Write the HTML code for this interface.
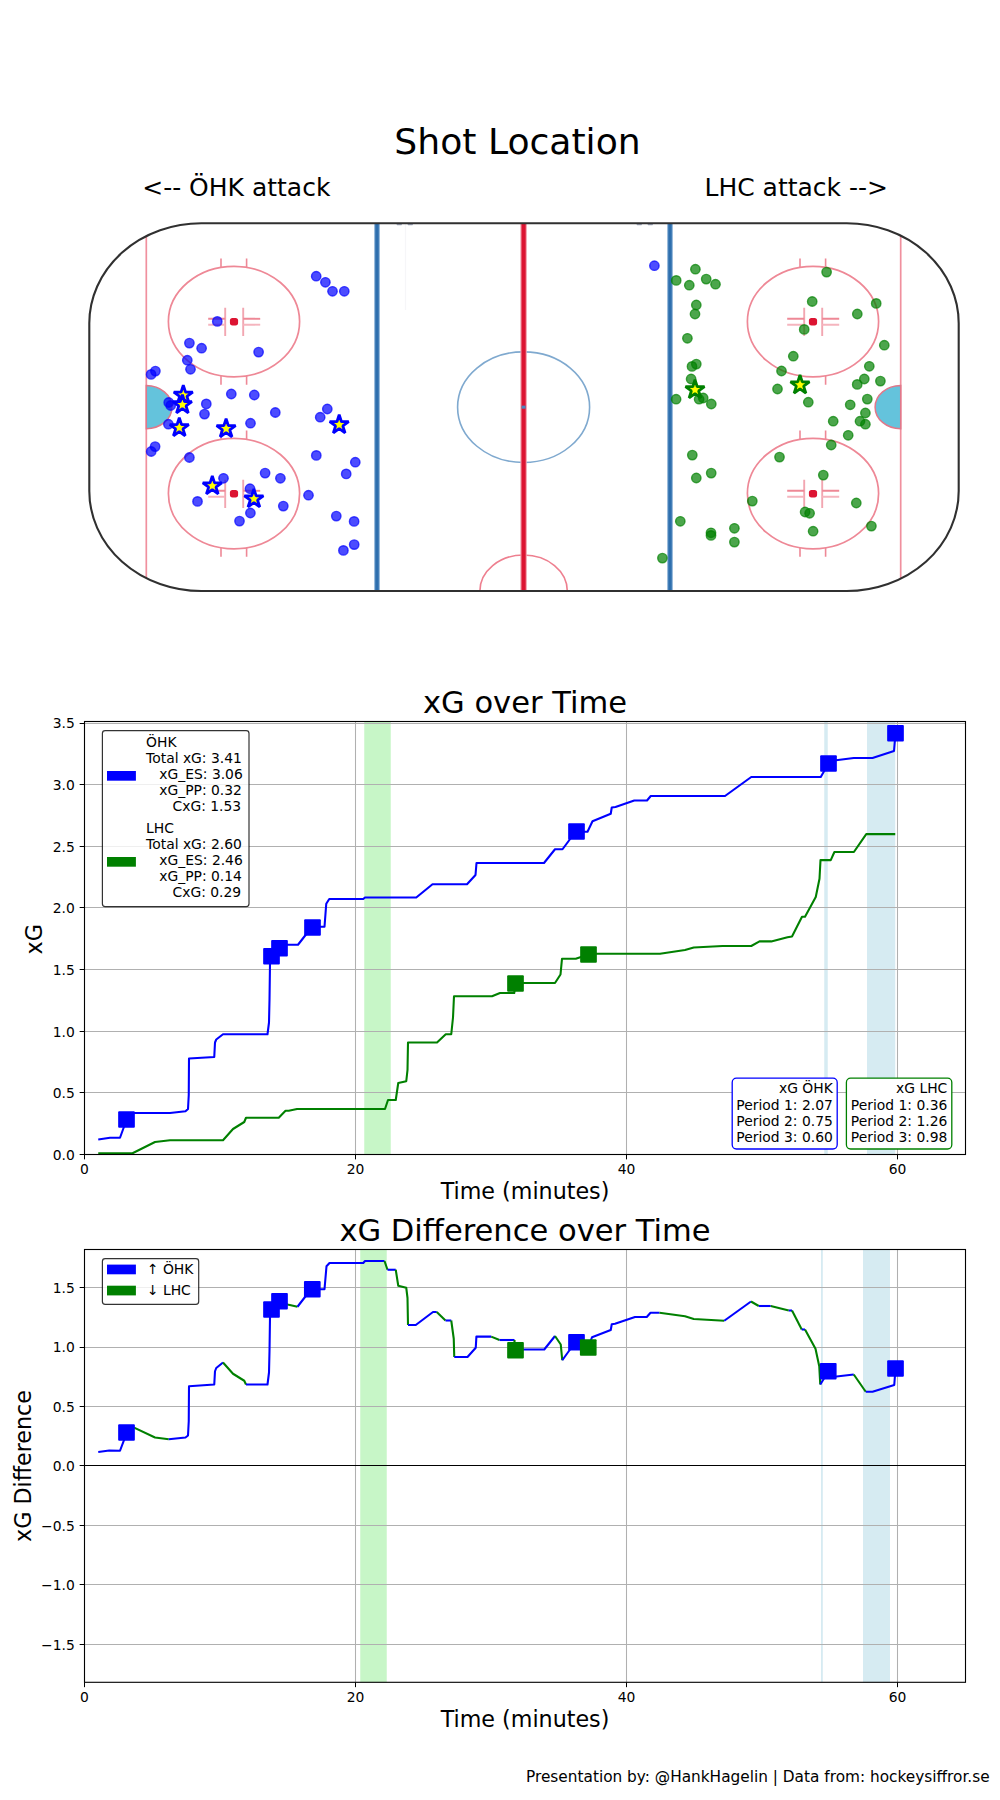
<!DOCTYPE html>
<html lang="en"><head><meta charset="utf-8"><title>Shot Location / xG</title>
<style>
html,body{margin:0;padding:0;background:#fff}
body{width:1000px;height:1800px;overflow:hidden}
svg{display:block}
svg text{font-family:'DejaVu Sans','Liberation Sans',sans-serif;white-space:pre}
</style></head><body>
<svg width="1000" height="1800" viewBox="0 0 1000 1800">
<rect width="1000" height="1800" fill="#fff"/>
<text x="517.5" y="154.2" font-size="36.11" text-anchor="middle" fill="#000" >Shot Location</text>
<text x="142.2" y="196" font-size="25" text-anchor="start" fill="#000" >&lt;-- ÖHK attack</text>
<text x="888.0" y="196" font-size="25" text-anchor="end" fill="#000" >LHC attack --&gt;</text>
<defs><clipPath id="rinkclip"><rect x="89.3" y="223.3" width="869.4000000000001" height="367.7" rx="112" ry="100"/></clipPath></defs>
<g clip-path="url(#rinkclip)">
<line x1="146.3" y1="223.3" x2="146.3" y2="591.0" stroke="#f0909e" stroke-width="1.7"/>
<line x1="900.7" y1="223.3" x2="900.7" y2="591.0" stroke="#f0909e" stroke-width="1.7"/>
<path d="M146.3 385.54999999999995 A25.6 21.6 0 0 1 146.3 428.75 Z" fill="#64c3dc" stroke="#e0788a" stroke-width="1.5"/>
<path d="M900.7 385.54999999999995 A25.6 21.6 0 0 0 900.7 428.75 Z" fill="#64c3dc" stroke="#e0788a" stroke-width="1.5"/>
<line x1="377.0" y1="223.3" x2="377.0" y2="591.0" stroke="#9bbcdc" stroke-width="6"/>
<line x1="377.0" y1="223.3" x2="377.0" y2="591.0" stroke="#2e6fae" stroke-width="3.6"/>
<line x1="670.0" y1="223.3" x2="670.0" y2="591.0" stroke="#9bbcdc" stroke-width="6"/>
<line x1="670.0" y1="223.3" x2="670.0" y2="591.0" stroke="#2e6fae" stroke-width="3.6"/>
<ellipse cx="523.6" cy="407.15" rx="66" ry="55.3" fill="none" stroke="#7fa9cf" stroke-width="1.6"/>
<ellipse cx="523.6" cy="591.0" rx="43.7" ry="36" fill="none" stroke="#ee7f8f" stroke-width="1.6"/>
<line x1="523.6" y1="223.3" x2="523.6" y2="591.0" stroke="#f09aa6" stroke-width="6.4"/>
<line x1="523.6" y1="223.3" x2="523.6" y2="591.0" stroke="#dc1432" stroke-width="4.2"/>
<rect x="521.6" y="405.65" width="4" height="3" fill="#4a86c0"/>
<ellipse cx="234.0" cy="321.6" rx="65.6" ry="55.3" fill="none" stroke="#ee8896" stroke-width="1.7"/>
<line x1="221.0" y1="258.40000000000003" x2="221.0" y2="267.1" stroke="#ee8896" stroke-width="1.6"/>
<line x1="221.0" y1="376.1" x2="221.0" y2="384.8" stroke="#ee8896" stroke-width="1.6"/>
<line x1="246.6" y1="258.40000000000003" x2="246.6" y2="267.1" stroke="#ee8896" stroke-width="1.6"/>
<line x1="246.6" y1="376.1" x2="246.6" y2="384.8" stroke="#ee8896" stroke-width="1.6"/>
<line x1="225.2" y1="307.8" x2="225.2" y2="336.0" stroke="#f2a6b1" stroke-width="1.9"/>
<line x1="225.2" y1="318.8" x2="208.2" y2="318.8" stroke="#ee8896" stroke-width="1.9"/>
<line x1="225.2" y1="324.70000000000005" x2="208.2" y2="324.70000000000005" stroke="#f5b5be" stroke-width="1.9"/>
<line x1="243.20000000000002" y1="307.8" x2="243.20000000000002" y2="336.0" stroke="#f2a6b1" stroke-width="1.9"/>
<line x1="243.20000000000002" y1="318.8" x2="260.20000000000005" y2="318.8" stroke="#ee8896" stroke-width="1.9"/>
<line x1="243.20000000000002" y1="324.70000000000005" x2="260.20000000000005" y2="324.70000000000005" stroke="#f5b5be" stroke-width="1.9"/>
<rect x="229.9" y="318.0" width="8.2" height="7.4" rx="2.6" fill="#dc1432"/>
<ellipse cx="234.0" cy="493.6" rx="65.6" ry="55.3" fill="none" stroke="#ee8896" stroke-width="1.7"/>
<line x1="221.0" y1="430.40000000000003" x2="221.0" y2="439.1" stroke="#ee8896" stroke-width="1.6"/>
<line x1="221.0" y1="548.1" x2="221.0" y2="556.8000000000001" stroke="#ee8896" stroke-width="1.6"/>
<line x1="246.6" y1="430.40000000000003" x2="246.6" y2="439.1" stroke="#ee8896" stroke-width="1.6"/>
<line x1="246.6" y1="548.1" x2="246.6" y2="556.8000000000001" stroke="#ee8896" stroke-width="1.6"/>
<line x1="225.2" y1="479.8" x2="225.2" y2="508.0" stroke="#f2a6b1" stroke-width="1.9"/>
<line x1="225.2" y1="490.8" x2="208.2" y2="490.8" stroke="#ee8896" stroke-width="1.9"/>
<line x1="225.2" y1="496.70000000000005" x2="208.2" y2="496.70000000000005" stroke="#f5b5be" stroke-width="1.9"/>
<line x1="243.20000000000002" y1="479.8" x2="243.20000000000002" y2="508.0" stroke="#f2a6b1" stroke-width="1.9"/>
<line x1="243.20000000000002" y1="490.8" x2="260.20000000000005" y2="490.8" stroke="#ee8896" stroke-width="1.9"/>
<line x1="243.20000000000002" y1="496.70000000000005" x2="260.20000000000005" y2="496.70000000000005" stroke="#f5b5be" stroke-width="1.9"/>
<rect x="229.9" y="490.0" width="8.2" height="7.4" rx="2.6" fill="#dc1432"/>
<ellipse cx="813.0" cy="321.6" rx="65.6" ry="55.3" fill="none" stroke="#ee8896" stroke-width="1.7"/>
<line x1="800.0" y1="258.40000000000003" x2="800.0" y2="267.1" stroke="#ee8896" stroke-width="1.6"/>
<line x1="800.0" y1="376.1" x2="800.0" y2="384.8" stroke="#ee8896" stroke-width="1.6"/>
<line x1="825.6" y1="258.40000000000003" x2="825.6" y2="267.1" stroke="#ee8896" stroke-width="1.6"/>
<line x1="825.6" y1="376.1" x2="825.6" y2="384.8" stroke="#ee8896" stroke-width="1.6"/>
<line x1="804.2" y1="307.8" x2="804.2" y2="336.0" stroke="#f2a6b1" stroke-width="1.9"/>
<line x1="804.2" y1="318.8" x2="787.2" y2="318.8" stroke="#ee8896" stroke-width="1.9"/>
<line x1="804.2" y1="324.70000000000005" x2="787.2" y2="324.70000000000005" stroke="#f5b5be" stroke-width="1.9"/>
<line x1="822.1999999999999" y1="307.8" x2="822.1999999999999" y2="336.0" stroke="#f2a6b1" stroke-width="1.9"/>
<line x1="822.1999999999999" y1="318.8" x2="839.1999999999999" y2="318.8" stroke="#ee8896" stroke-width="1.9"/>
<line x1="822.1999999999999" y1="324.70000000000005" x2="839.1999999999999" y2="324.70000000000005" stroke="#f5b5be" stroke-width="1.9"/>
<rect x="808.9" y="318.0" width="8.2" height="7.4" rx="2.6" fill="#dc1432"/>
<ellipse cx="813.0" cy="493.6" rx="65.6" ry="55.3" fill="none" stroke="#ee8896" stroke-width="1.7"/>
<line x1="800.0" y1="430.40000000000003" x2="800.0" y2="439.1" stroke="#ee8896" stroke-width="1.6"/>
<line x1="800.0" y1="548.1" x2="800.0" y2="556.8000000000001" stroke="#ee8896" stroke-width="1.6"/>
<line x1="825.6" y1="430.40000000000003" x2="825.6" y2="439.1" stroke="#ee8896" stroke-width="1.6"/>
<line x1="825.6" y1="548.1" x2="825.6" y2="556.8000000000001" stroke="#ee8896" stroke-width="1.6"/>
<line x1="804.2" y1="479.8" x2="804.2" y2="508.0" stroke="#f2a6b1" stroke-width="1.9"/>
<line x1="804.2" y1="490.8" x2="787.2" y2="490.8" stroke="#ee8896" stroke-width="1.9"/>
<line x1="804.2" y1="496.70000000000005" x2="787.2" y2="496.70000000000005" stroke="#f5b5be" stroke-width="1.9"/>
<line x1="822.1999999999999" y1="479.8" x2="822.1999999999999" y2="508.0" stroke="#f2a6b1" stroke-width="1.9"/>
<line x1="822.1999999999999" y1="490.8" x2="839.1999999999999" y2="490.8" stroke="#ee8896" stroke-width="1.9"/>
<line x1="822.1999999999999" y1="496.70000000000005" x2="839.1999999999999" y2="496.70000000000005" stroke="#f5b5be" stroke-width="1.9"/>
<rect x="808.9" y="490.0" width="8.2" height="7.4" rx="2.6" fill="#dc1432"/>
<rect x="396.5" y="223.9" width="5.5" height="1.4" rx="0.7" fill="#4a5a80" fill-opacity="0.55"/>
<rect x="407.5" y="223.9" width="5.5" height="1.4" rx="0.7" fill="#4a5a80" fill-opacity="0.55"/>
<rect x="636.5" y="223.9" width="5.5" height="1.4" rx="0.7" fill="#4a5a80" fill-opacity="0.55"/>
<rect x="647.5" y="223.9" width="5.5" height="1.4" rx="0.7" fill="#4a5a80" fill-opacity="0.55"/>
<line x1="405.5" y1="223.3" x2="405.5" y2="310" stroke="#f6f6f8" stroke-width="1.2"/>
</g>
<rect x="89.3" y="223.3" width="869.4000000000001" height="367.7" rx="112" ry="100" fill="none" stroke="#303030" stroke-width="2.1"/>
<circle cx="316.2" cy="276.2" r="4.7" fill="#0000ff" fill-opacity="0.7" stroke="#0000ff" stroke-opacity="0.7" stroke-width="1.39"/>
<circle cx="325.4" cy="282.3" r="4.7" fill="#0000ff" fill-opacity="0.7" stroke="#0000ff" stroke-opacity="0.7" stroke-width="1.39"/>
<circle cx="332.5" cy="291.3" r="4.7" fill="#0000ff" fill-opacity="0.7" stroke="#0000ff" stroke-opacity="0.7" stroke-width="1.39"/>
<circle cx="344.3" cy="291.3" r="4.7" fill="#0000ff" fill-opacity="0.7" stroke="#0000ff" stroke-opacity="0.7" stroke-width="1.39"/>
<circle cx="217.3" cy="321.4" r="4.7" fill="#0000ff" fill-opacity="0.7" stroke="#0000ff" stroke-opacity="0.7" stroke-width="1.39"/>
<circle cx="189.4" cy="343.1" r="4.7" fill="#0000ff" fill-opacity="0.7" stroke="#0000ff" stroke-opacity="0.7" stroke-width="1.39"/>
<circle cx="201.6" cy="348.2" r="4.7" fill="#0000ff" fill-opacity="0.7" stroke="#0000ff" stroke-opacity="0.7" stroke-width="1.39"/>
<circle cx="258.6" cy="352.1" r="4.7" fill="#0000ff" fill-opacity="0.7" stroke="#0000ff" stroke-opacity="0.7" stroke-width="1.39"/>
<circle cx="187.3" cy="360.2" r="4.7" fill="#0000ff" fill-opacity="0.7" stroke="#0000ff" stroke-opacity="0.7" stroke-width="1.39"/>
<circle cx="190.5" cy="369.3" r="4.7" fill="#0000ff" fill-opacity="0.7" stroke="#0000ff" stroke-opacity="0.7" stroke-width="1.39"/>
<circle cx="155.4" cy="371.1" r="4.7" fill="#0000ff" fill-opacity="0.7" stroke="#0000ff" stroke-opacity="0.7" stroke-width="1.39"/>
<circle cx="151.1" cy="374.4" r="4.7" fill="#0000ff" fill-opacity="0.7" stroke="#0000ff" stroke-opacity="0.7" stroke-width="1.39"/>
<circle cx="231.3" cy="394.0" r="4.7" fill="#0000ff" fill-opacity="0.7" stroke="#0000ff" stroke-opacity="0.7" stroke-width="1.39"/>
<circle cx="254.3" cy="395.0" r="4.7" fill="#0000ff" fill-opacity="0.7" stroke="#0000ff" stroke-opacity="0.7" stroke-width="1.39"/>
<circle cx="206.3" cy="403.9" r="4.7" fill="#0000ff" fill-opacity="0.7" stroke="#0000ff" stroke-opacity="0.7" stroke-width="1.39"/>
<circle cx="168.7" cy="402.5" r="4.7" fill="#0000ff" fill-opacity="0.7" stroke="#0000ff" stroke-opacity="0.7" stroke-width="1.39"/>
<circle cx="170.7" cy="405.5" r="4.7" fill="#0000ff" fill-opacity="0.7" stroke="#0000ff" stroke-opacity="0.7" stroke-width="1.39"/>
<circle cx="327.3" cy="409.0" r="4.7" fill="#0000ff" fill-opacity="0.7" stroke="#0000ff" stroke-opacity="0.7" stroke-width="1.39"/>
<circle cx="275.3" cy="412.5" r="4.7" fill="#0000ff" fill-opacity="0.7" stroke="#0000ff" stroke-opacity="0.7" stroke-width="1.39"/>
<circle cx="204.5" cy="414.1" r="4.7" fill="#0000ff" fill-opacity="0.7" stroke="#0000ff" stroke-opacity="0.7" stroke-width="1.39"/>
<circle cx="320.2" cy="417.2" r="4.7" fill="#0000ff" fill-opacity="0.7" stroke="#0000ff" stroke-opacity="0.7" stroke-width="1.39"/>
<circle cx="250.5" cy="423.2" r="4.7" fill="#0000ff" fill-opacity="0.7" stroke="#0000ff" stroke-opacity="0.7" stroke-width="1.39"/>
<circle cx="168.4" cy="424.2" r="4.7" fill="#0000ff" fill-opacity="0.7" stroke="#0000ff" stroke-opacity="0.7" stroke-width="1.39"/>
<circle cx="155.1" cy="446.6" r="4.7" fill="#0000ff" fill-opacity="0.7" stroke="#0000ff" stroke-opacity="0.7" stroke-width="1.39"/>
<circle cx="151.2" cy="451.5" r="4.7" fill="#0000ff" fill-opacity="0.7" stroke="#0000ff" stroke-opacity="0.7" stroke-width="1.39"/>
<circle cx="189.4" cy="457.5" r="4.7" fill="#0000ff" fill-opacity="0.7" stroke="#0000ff" stroke-opacity="0.7" stroke-width="1.39"/>
<circle cx="316.3" cy="455.4" r="4.7" fill="#0000ff" fill-opacity="0.7" stroke="#0000ff" stroke-opacity="0.7" stroke-width="1.39"/>
<circle cx="355.3" cy="462.2" r="4.7" fill="#0000ff" fill-opacity="0.7" stroke="#0000ff" stroke-opacity="0.7" stroke-width="1.39"/>
<circle cx="346.2" cy="473.9" r="4.7" fill="#0000ff" fill-opacity="0.7" stroke="#0000ff" stroke-opacity="0.7" stroke-width="1.39"/>
<circle cx="223.5" cy="478.3" r="4.7" fill="#0000ff" fill-opacity="0.7" stroke="#0000ff" stroke-opacity="0.7" stroke-width="1.39"/>
<circle cx="265.1" cy="473.1" r="4.7" fill="#0000ff" fill-opacity="0.7" stroke="#0000ff" stroke-opacity="0.7" stroke-width="1.39"/>
<circle cx="280.4" cy="478.3" r="4.7" fill="#0000ff" fill-opacity="0.7" stroke="#0000ff" stroke-opacity="0.7" stroke-width="1.39"/>
<circle cx="250.0" cy="488.7" r="4.7" fill="#0000ff" fill-opacity="0.7" stroke="#0000ff" stroke-opacity="0.7" stroke-width="1.39"/>
<circle cx="308.5" cy="495.2" r="4.7" fill="#0000ff" fill-opacity="0.7" stroke="#0000ff" stroke-opacity="0.7" stroke-width="1.39"/>
<circle cx="197.5" cy="501.4" r="4.7" fill="#0000ff" fill-opacity="0.7" stroke="#0000ff" stroke-opacity="0.7" stroke-width="1.39"/>
<circle cx="283.3" cy="506.1" r="4.7" fill="#0000ff" fill-opacity="0.7" stroke="#0000ff" stroke-opacity="0.7" stroke-width="1.39"/>
<circle cx="250.4" cy="513.0" r="4.7" fill="#0000ff" fill-opacity="0.7" stroke="#0000ff" stroke-opacity="0.7" stroke-width="1.39"/>
<circle cx="239.5" cy="521.1" r="4.7" fill="#0000ff" fill-opacity="0.7" stroke="#0000ff" stroke-opacity="0.7" stroke-width="1.39"/>
<circle cx="336.3" cy="516.1" r="4.7" fill="#0000ff" fill-opacity="0.7" stroke="#0000ff" stroke-opacity="0.7" stroke-width="1.39"/>
<circle cx="354.1" cy="521.4" r="4.7" fill="#0000ff" fill-opacity="0.7" stroke="#0000ff" stroke-opacity="0.7" stroke-width="1.39"/>
<circle cx="354.2" cy="544.6" r="4.7" fill="#0000ff" fill-opacity="0.7" stroke="#0000ff" stroke-opacity="0.7" stroke-width="1.39"/>
<circle cx="343.4" cy="550.4" r="4.7" fill="#0000ff" fill-opacity="0.7" stroke="#0000ff" stroke-opacity="0.7" stroke-width="1.39"/>
<circle cx="654.4" cy="265.7" r="4.7" fill="#0000ff" fill-opacity="0.7" stroke="#0000ff" stroke-opacity="0.7" stroke-width="1.39"/>
<circle cx="695.4" cy="269.2" r="4.7" fill="#008000" fill-opacity="0.7" stroke="#008000" stroke-opacity="0.7" stroke-width="1.39"/>
<circle cx="676.2" cy="280.4" r="4.7" fill="#008000" fill-opacity="0.7" stroke="#008000" stroke-opacity="0.7" stroke-width="1.39"/>
<circle cx="689.3" cy="285.2" r="4.7" fill="#008000" fill-opacity="0.7" stroke="#008000" stroke-opacity="0.7" stroke-width="1.39"/>
<circle cx="706.2" cy="279.1" r="4.7" fill="#008000" fill-opacity="0.7" stroke="#008000" stroke-opacity="0.7" stroke-width="1.39"/>
<circle cx="715.5" cy="284.2" r="4.7" fill="#008000" fill-opacity="0.7" stroke="#008000" stroke-opacity="0.7" stroke-width="1.39"/>
<circle cx="696.3" cy="305.0" r="4.7" fill="#008000" fill-opacity="0.7" stroke="#008000" stroke-opacity="0.7" stroke-width="1.39"/>
<circle cx="695.0" cy="314.0" r="4.7" fill="#008000" fill-opacity="0.7" stroke="#008000" stroke-opacity="0.7" stroke-width="1.39"/>
<circle cx="687.4" cy="338.3" r="4.7" fill="#008000" fill-opacity="0.7" stroke="#008000" stroke-opacity="0.7" stroke-width="1.39"/>
<circle cx="826.6" cy="272.1" r="4.7" fill="#008000" fill-opacity="0.7" stroke="#008000" stroke-opacity="0.7" stroke-width="1.39"/>
<circle cx="812.2" cy="301.5" r="4.7" fill="#008000" fill-opacity="0.7" stroke="#008000" stroke-opacity="0.7" stroke-width="1.39"/>
<circle cx="876.2" cy="303.4" r="4.7" fill="#008000" fill-opacity="0.7" stroke="#008000" stroke-opacity="0.7" stroke-width="1.39"/>
<circle cx="857.3" cy="314.0" r="4.7" fill="#008000" fill-opacity="0.7" stroke="#008000" stroke-opacity="0.7" stroke-width="1.39"/>
<circle cx="804.2" cy="329.4" r="4.7" fill="#008000" fill-opacity="0.7" stroke="#008000" stroke-opacity="0.7" stroke-width="1.39"/>
<circle cx="884.3" cy="345.2" r="4.7" fill="#008000" fill-opacity="0.7" stroke="#008000" stroke-opacity="0.7" stroke-width="1.39"/>
<circle cx="793.3" cy="356.2" r="4.7" fill="#008000" fill-opacity="0.7" stroke="#008000" stroke-opacity="0.7" stroke-width="1.39"/>
<circle cx="696.3" cy="364.1" r="4.7" fill="#008000" fill-opacity="0.7" stroke="#008000" stroke-opacity="0.7" stroke-width="1.39"/>
<circle cx="692.0" cy="366.4" r="4.7" fill="#008000" fill-opacity="0.7" stroke="#008000" stroke-opacity="0.7" stroke-width="1.39"/>
<circle cx="869.3" cy="366.3" r="4.7" fill="#008000" fill-opacity="0.7" stroke="#008000" stroke-opacity="0.7" stroke-width="1.39"/>
<circle cx="781.5" cy="371.0" r="4.7" fill="#008000" fill-opacity="0.7" stroke="#008000" stroke-opacity="0.7" stroke-width="1.39"/>
<circle cx="691.1" cy="379.0" r="4.7" fill="#008000" fill-opacity="0.7" stroke="#008000" stroke-opacity="0.7" stroke-width="1.39"/>
<circle cx="864.3" cy="379.0" r="4.7" fill="#008000" fill-opacity="0.7" stroke="#008000" stroke-opacity="0.7" stroke-width="1.39"/>
<circle cx="880.4" cy="381.1" r="4.7" fill="#008000" fill-opacity="0.7" stroke="#008000" stroke-opacity="0.7" stroke-width="1.39"/>
<circle cx="857.2" cy="384.4" r="4.7" fill="#008000" fill-opacity="0.7" stroke="#008000" stroke-opacity="0.7" stroke-width="1.39"/>
<circle cx="777.5" cy="389.0" r="4.7" fill="#008000" fill-opacity="0.7" stroke="#008000" stroke-opacity="0.7" stroke-width="1.39"/>
<circle cx="676.1" cy="399.2" r="4.7" fill="#008000" fill-opacity="0.7" stroke="#008000" stroke-opacity="0.7" stroke-width="1.39"/>
<circle cx="699.1" cy="399.2" r="4.7" fill="#008000" fill-opacity="0.7" stroke="#008000" stroke-opacity="0.7" stroke-width="1.39"/>
<circle cx="703.2" cy="398.0" r="4.7" fill="#008000" fill-opacity="0.7" stroke="#008000" stroke-opacity="0.7" stroke-width="1.39"/>
<circle cx="711.3" cy="404.0" r="4.7" fill="#008000" fill-opacity="0.7" stroke="#008000" stroke-opacity="0.7" stroke-width="1.39"/>
<circle cx="808.3" cy="402.2" r="4.7" fill="#008000" fill-opacity="0.7" stroke="#008000" stroke-opacity="0.7" stroke-width="1.39"/>
<circle cx="867.3" cy="399.1" r="4.7" fill="#008000" fill-opacity="0.7" stroke="#008000" stroke-opacity="0.7" stroke-width="1.39"/>
<circle cx="850.2" cy="404.8" r="4.7" fill="#008000" fill-opacity="0.7" stroke="#008000" stroke-opacity="0.7" stroke-width="1.39"/>
<circle cx="865.4" cy="413.0" r="4.7" fill="#008000" fill-opacity="0.7" stroke="#008000" stroke-opacity="0.7" stroke-width="1.39"/>
<circle cx="860.0" cy="421.2" r="4.7" fill="#008000" fill-opacity="0.7" stroke="#008000" stroke-opacity="0.7" stroke-width="1.39"/>
<circle cx="865.4" cy="424.2" r="4.7" fill="#008000" fill-opacity="0.7" stroke="#008000" stroke-opacity="0.7" stroke-width="1.39"/>
<circle cx="833.2" cy="421.2" r="4.7" fill="#008000" fill-opacity="0.7" stroke="#008000" stroke-opacity="0.7" stroke-width="1.39"/>
<circle cx="848.2" cy="435.3" r="4.7" fill="#008000" fill-opacity="0.7" stroke="#008000" stroke-opacity="0.7" stroke-width="1.39"/>
<circle cx="831.2" cy="445.0" r="4.7" fill="#008000" fill-opacity="0.7" stroke="#008000" stroke-opacity="0.7" stroke-width="1.39"/>
<circle cx="692.3" cy="455.1" r="4.7" fill="#008000" fill-opacity="0.7" stroke="#008000" stroke-opacity="0.7" stroke-width="1.39"/>
<circle cx="779.5" cy="457.1" r="4.7" fill="#008000" fill-opacity="0.7" stroke="#008000" stroke-opacity="0.7" stroke-width="1.39"/>
<circle cx="711.2" cy="473.1" r="4.7" fill="#008000" fill-opacity="0.7" stroke="#008000" stroke-opacity="0.7" stroke-width="1.39"/>
<circle cx="696.3" cy="478.0" r="4.7" fill="#008000" fill-opacity="0.7" stroke="#008000" stroke-opacity="0.7" stroke-width="1.39"/>
<circle cx="823.3" cy="475.1" r="4.7" fill="#008000" fill-opacity="0.7" stroke="#008000" stroke-opacity="0.7" stroke-width="1.39"/>
<circle cx="752.3" cy="501.1" r="4.7" fill="#008000" fill-opacity="0.7" stroke="#008000" stroke-opacity="0.7" stroke-width="1.39"/>
<circle cx="856.3" cy="503.0" r="4.7" fill="#008000" fill-opacity="0.7" stroke="#008000" stroke-opacity="0.7" stroke-width="1.39"/>
<circle cx="805.1" cy="512.0" r="4.7" fill="#008000" fill-opacity="0.7" stroke="#008000" stroke-opacity="0.7" stroke-width="1.39"/>
<circle cx="809.6" cy="513.3" r="4.7" fill="#008000" fill-opacity="0.7" stroke="#008000" stroke-opacity="0.7" stroke-width="1.39"/>
<circle cx="680.3" cy="521.3" r="4.7" fill="#008000" fill-opacity="0.7" stroke="#008000" stroke-opacity="0.7" stroke-width="1.39"/>
<circle cx="871.4" cy="526.1" r="4.7" fill="#008000" fill-opacity="0.7" stroke="#008000" stroke-opacity="0.7" stroke-width="1.39"/>
<circle cx="734.4" cy="528.3" r="4.7" fill="#008000" fill-opacity="0.7" stroke="#008000" stroke-opacity="0.7" stroke-width="1.39"/>
<circle cx="813.1" cy="531.2" r="4.7" fill="#008000" fill-opacity="0.7" stroke="#008000" stroke-opacity="0.7" stroke-width="1.39"/>
<circle cx="711.0" cy="532.8" r="4.7" fill="#008000" fill-opacity="0.7" stroke="#008000" stroke-opacity="0.7" stroke-width="1.39"/>
<circle cx="711.0" cy="535.4" r="4.7" fill="#008000" fill-opacity="0.7" stroke="#008000" stroke-opacity="0.7" stroke-width="1.39"/>
<circle cx="734.4" cy="542.1" r="4.7" fill="#008000" fill-opacity="0.7" stroke="#008000" stroke-opacity="0.7" stroke-width="1.39"/>
<circle cx="662.4" cy="558.1" r="4.7" fill="#008000" fill-opacity="0.7" stroke="#008000" stroke-opacity="0.7" stroke-width="1.39"/>
<path d="M183.30 385.20 L185.55 392.11 L192.81 392.11 L186.93 396.38 L189.18 403.29 L183.30 399.02 L177.42 403.29 L179.67 396.38 L173.79 392.11 L181.05 392.11Z" fill="#ffff00" stroke="#0000ff" stroke-width="2.8" stroke-linejoin="bevel"/>
<path d="M182.40 394.80 L184.65 401.71 L191.91 401.71 L186.03 405.98 L188.28 412.89 L182.40 408.62 L176.52 412.89 L178.77 405.98 L172.89 401.71 L180.15 401.71Z" fill="#ffff00" stroke="#0000ff" stroke-width="2.8" stroke-linejoin="bevel"/>
<path d="M179.30 417.70 L181.55 424.61 L188.81 424.61 L182.93 428.88 L185.18 435.79 L179.30 431.52 L173.42 435.79 L175.67 428.88 L169.79 424.61 L177.05 424.61Z" fill="#ffff00" stroke="#0000ff" stroke-width="2.8" stroke-linejoin="bevel"/>
<path d="M226.10 418.70 L228.35 425.61 L235.61 425.61 L229.73 429.88 L231.98 436.79 L226.10 432.52 L220.22 436.79 L222.47 429.88 L216.59 425.61 L223.85 425.61Z" fill="#ffff00" stroke="#0000ff" stroke-width="2.8" stroke-linejoin="bevel"/>
<path d="M339.20 414.80 L341.45 421.71 L348.71 421.71 L342.83 425.98 L345.08 432.89 L339.20 428.62 L333.32 432.89 L335.57 425.98 L329.69 421.71 L336.95 421.71Z" fill="#ffff00" stroke="#0000ff" stroke-width="2.8" stroke-linejoin="bevel"/>
<path d="M212.30 475.90 L214.55 482.81 L221.81 482.81 L215.93 487.08 L218.18 493.99 L212.30 489.72 L206.42 493.99 L208.67 487.08 L202.79 482.81 L210.05 482.81Z" fill="#ffff00" stroke="#0000ff" stroke-width="2.8" stroke-linejoin="bevel"/>
<path d="M253.90 488.90 L256.15 495.81 L263.41 495.81 L257.53 500.08 L259.78 506.99 L253.90 502.72 L248.02 506.99 L250.27 500.08 L244.39 495.81 L251.65 495.81Z" fill="#ffff00" stroke="#0000ff" stroke-width="2.8" stroke-linejoin="bevel"/>
<path d="M695.00 379.80 L697.25 386.71 L704.51 386.71 L698.63 390.98 L700.88 397.89 L695.00 393.62 L689.12 397.89 L691.37 390.98 L685.49 386.71 L692.75 386.71Z" fill="#ffff00" stroke="#008000" stroke-width="2.8" stroke-linejoin="bevel"/>
<path d="M800.00 375.00 L802.25 381.91 L809.51 381.91 L803.63 386.18 L805.88 393.09 L800.00 388.82 L794.12 393.09 L796.37 386.18 L790.49 381.91 L797.75 381.91Z" fill="#ffff00" stroke="#008000" stroke-width="2.8" stroke-linejoin="bevel"/>
<text x="525" y="713.4" font-size="30.56" text-anchor="middle" fill="#000" >xG over Time</text>
<rect x="364.25" y="721.5" width="26.5" height="433.0" fill="#90ee90" fill-opacity="0.5"/>
<rect x="824.25" y="721.5" width="3.5" height="433.0" fill="#add8e6" fill-opacity="0.5"/>
<rect x="867.0" y="721.5" width="28.25" height="433.0" fill="#add8e6" fill-opacity="0.5"/>
<line x1="355.5" y1="721.5" x2="355.5" y2="1154.5" stroke="#b0b0b0" stroke-width="1.05"/>
<line x1="626.5" y1="721.5" x2="626.5" y2="1154.5" stroke="#b0b0b0" stroke-width="1.05"/>
<line x1="897.5" y1="721.5" x2="897.5" y2="1154.5" stroke="#b0b0b0" stroke-width="1.05"/>
<line x1="84.5" y1="1092.5" x2="965.5" y2="1092.5" stroke="#b0b0b0" stroke-width="1.05"/>
<line x1="84.5" y1="1031.5" x2="965.5" y2="1031.5" stroke="#b0b0b0" stroke-width="1.05"/>
<line x1="84.5" y1="969.5" x2="965.5" y2="969.5" stroke="#b0b0b0" stroke-width="1.05"/>
<line x1="84.5" y1="907.5" x2="965.5" y2="907.5" stroke="#b0b0b0" stroke-width="1.05"/>
<line x1="84.5" y1="846.5" x2="965.5" y2="846.5" stroke="#b0b0b0" stroke-width="1.05"/>
<line x1="84.5" y1="784.5" x2="965.5" y2="784.5" stroke="#b0b0b0" stroke-width="1.05"/>
<line x1="84.5" y1="723.5" x2="965.5" y2="723.5" stroke="#b0b0b0" stroke-width="1.05"/>
<clipPath id="c2"><rect x="84.5" y="721.5" width="881.0" height="433.0"/></clipPath>
<polyline points="98.25,1139.50 110.00,1137.75 120.00,1137.75 129.00,1113.00 170.00,1113.00 185.50,1111.25 188.00,1109.00 188.75,1095.00 189.00,1058.50 214.25,1057.00 215.00,1042.50 216.25,1039.50 223.00,1034.25 267.50,1034.25 269.00,1022.50 269.50,1000.00 270.00,963.75 271.50,956.25 279.50,948.25 284.00,944.75 298.00,944.75 312.00,926.75 324.50,926.75 326.25,903.75 329.25,899.00 363.25,899.00 365.00,897.50 416.25,897.50 432.50,884.25 467.00,884.25 475.50,875.00 476.50,863.00 544.00,863.00 555.00,849.25 562.50,849.25 575.50,831.75 587.50,831.75 592.50,821.25 610.75,813.75 611.75,807.50 615.50,807.00 634.25,800.50 647.00,800.50 650.75,796.00 725.00,796.00 751.25,777.00 820.75,777.00 830.00,761.00 853.75,758.00 872.50,758.00 894.00,751.00 895.50,733.25" fill="none" stroke="#0000ff" stroke-width="2.08" stroke-linejoin="round" stroke-linecap="butt" />
<rect x="118.15" y="1111.15" width="16.7" height="16.7" rx="1" fill="#0000ff"/>
<rect x="263.15" y="947.90" width="16.7" height="16.7" rx="1" fill="#0000ff"/>
<rect x="271.15" y="939.90" width="16.7" height="16.7" rx="1" fill="#0000ff"/>
<rect x="304.15" y="919.15" width="16.7" height="16.7" rx="1" fill="#0000ff"/>
<rect x="568.15" y="823.15" width="16.7" height="16.7" rx="1" fill="#0000ff"/>
<rect x="820.15" y="755.15" width="16.7" height="16.7" rx="1" fill="#0000ff"/>
<rect x="887.15" y="724.90" width="16.7" height="16.7" rx="1" fill="#0000ff"/>
<polyline points="98.25,1153.25 132.50,1153.25 155.00,1142.00 170.00,1140.25 223.00,1140.25 233.00,1129.00 244.25,1122.00 246.00,1117.75 278.75,1117.75 285.50,1110.75 288.75,1110.75 297.00,1109.00 385.00,1109.00 388.00,1100.00 395.75,1100.00 398.25,1083.00 406.25,1081.25 407.50,1070.00 408.00,1042.50 437.00,1042.50 445.75,1034.25 451.25,1034.25 453.00,1017.50 454.00,996.25 492.00,996.25 500.00,993.00 514.25,993.00 515.50,983.50 516.00,983.00 555.00,983.00 560.50,974.50 562.00,958.75 575.75,958.75 588.50,954.50 596.50,953.75 660.00,953.75 685.00,950.00 693.75,947.50 722.50,946.00 751.25,946.00 759.50,941.40 771.25,941.40 787.50,937.25 792.00,936.50 802.00,916.75 805.00,916.75 815.75,897.00 819.50,878.75 820.50,860.10 830.75,860.10 834.40,852.00 853.90,852.00 866.25,834.10 895.25,834.10" fill="none" stroke="#008000" stroke-width="2.08" stroke-linejoin="round" stroke-linecap="butt" />
<rect x="507.15" y="975.15" width="16.7" height="16.7" rx="1" fill="#008000"/>
<rect x="580.15" y="946.15" width="16.7" height="16.7" rx="1" fill="#008000"/>
<rect x="84.5" y="721.5" width="881.0" height="433.0" fill="none" stroke="#000" stroke-width="1.11"/>
<line x1="84.5" y1="1154.5" x2="84.5" y2="1159.36" stroke="#000" stroke-width="1.05"/>
<text x="84.5" y="1174.4" font-size="13.89" text-anchor="middle" fill="#000" >0</text>
<line x1="355.5" y1="1154.5" x2="355.5" y2="1159.36" stroke="#000" stroke-width="1.05"/>
<text x="355.5" y="1174.4" font-size="13.89" text-anchor="middle" fill="#000" >20</text>
<line x1="626.5" y1="1154.5" x2="626.5" y2="1159.36" stroke="#000" stroke-width="1.05"/>
<text x="626.5" y="1174.4" font-size="13.89" text-anchor="middle" fill="#000" >40</text>
<line x1="897.5" y1="1154.5" x2="897.5" y2="1159.36" stroke="#000" stroke-width="1.05"/>
<text x="897.5" y="1174.4" font-size="13.89" text-anchor="middle" fill="#000" >60</text>
<line x1="79.64" y1="1154.5" x2="84.5" y2="1154.5" stroke="#000" stroke-width="1.05"/>
<text x="74.8" y="1159.8" font-size="13.89" text-anchor="end" fill="#000" >0.0</text>
<line x1="79.64" y1="1092.5" x2="84.5" y2="1092.5" stroke="#000" stroke-width="1.05"/>
<text x="74.8" y="1097.8999999999999" font-size="13.89" text-anchor="end" fill="#000" >0.5</text>
<line x1="79.64" y1="1031.5" x2="84.5" y2="1031.5" stroke="#000" stroke-width="1.05"/>
<text x="74.8" y="1036.8999999999999" font-size="13.89" text-anchor="end" fill="#000" >1.0</text>
<line x1="79.64" y1="969.5" x2="84.5" y2="969.5" stroke="#000" stroke-width="1.05"/>
<text x="74.8" y="974.9" font-size="13.89" text-anchor="end" fill="#000" >1.5</text>
<line x1="79.64" y1="907.5" x2="84.5" y2="907.5" stroke="#000" stroke-width="1.05"/>
<text x="74.8" y="912.9" font-size="13.89" text-anchor="end" fill="#000" >2.0</text>
<line x1="79.64" y1="846.5" x2="84.5" y2="846.5" stroke="#000" stroke-width="1.05"/>
<text x="74.8" y="851.9" font-size="13.89" text-anchor="end" fill="#000" >2.5</text>
<line x1="79.64" y1="784.5" x2="84.5" y2="784.5" stroke="#000" stroke-width="1.05"/>
<text x="74.8" y="789.9" font-size="13.89" text-anchor="end" fill="#000" >3.0</text>
<line x1="79.64" y1="723.5" x2="84.5" y2="723.5" stroke="#000" stroke-width="1.05"/>
<text x="74.8" y="728.4" font-size="13.89" text-anchor="end" fill="#000" >3.5</text>
<text x="525" y="1198.6" font-size="22.22" text-anchor="middle" fill="#000" >Time (minutes)</text>
<text transform="translate(42.3,939.3) rotate(-90)" font-size="22.22" text-anchor="middle">xG</text>
<rect x="102.4" y="730.6" width="146.6" height="176.0" rx="2.8" fill="#fff" fill-opacity="0.8" stroke="#000" stroke-opacity="0.8" stroke-width="1.2"/>
<rect x="107.0" y="771.0" width="28.9" height="9.7" fill="#0000ff"/>
<rect x="107.0" y="857.0" width="28.9" height="9.7" fill="#008000"/>
<text x="146.1" y="746.8" font-size="13.89" text-anchor="start" fill="#000" xml:space="preserve">ÖHK</text>
<text x="146.1" y="762.9699999999999" font-size="13.89" text-anchor="start" fill="#000" xml:space="preserve">Total xG: 3.41</text>
<text x="146.1" y="779.14" font-size="13.89" text-anchor="start" fill="#000" xml:space="preserve">   xG_ES: 3.06</text>
<text x="146.1" y="795.31" font-size="13.89" text-anchor="start" fill="#000" xml:space="preserve">   xG_PP: 0.32</text>
<text x="146.1" y="811.48" font-size="13.89" text-anchor="start" fill="#000" xml:space="preserve">      CxG: 1.53</text>
<text x="146.1" y="832.7" font-size="13.89" text-anchor="start" fill="#000" xml:space="preserve">LHC</text>
<text x="146.1" y="848.87" font-size="13.89" text-anchor="start" fill="#000" xml:space="preserve">Total xG: 2.60</text>
<text x="146.1" y="865.0400000000001" font-size="13.89" text-anchor="start" fill="#000" xml:space="preserve">   xG_ES: 2.46</text>
<text x="146.1" y="881.21" font-size="13.89" text-anchor="start" fill="#000" xml:space="preserve">   xG_PP: 0.14</text>
<text x="146.1" y="897.3800000000001" font-size="13.89" text-anchor="start" fill="#000" xml:space="preserve">      CxG: 0.29</text>
<rect x="732.2" y="1078.2" width="105.0" height="70.8" rx="4.2" fill="#fff" stroke="#0000ff" stroke-width="1.3"/>
<rect x="846.4" y="1078.2" width="105.4" height="70.8" rx="4.2" fill="#fff" stroke="#008000" stroke-width="1.3"/>
<text x="832.8" y="1092.6" font-size="13.89" text-anchor="end" fill="#000" >xG ÖHK</text>
<text x="832.8" y="1109.77" font-size="13.89" text-anchor="end" fill="#000" >Period 1: 2.07</text>
<text x="832.8" y="1125.9399999999998" font-size="13.89" text-anchor="end" fill="#000" >Period 2: 0.75</text>
<text x="832.8" y="1142.11" font-size="13.89" text-anchor="end" fill="#000" >Period 3: 0.60</text>
<text x="947.3" y="1092.6" font-size="13.89" text-anchor="end" fill="#000" >xG LHC</text>
<text x="947.3" y="1109.77" font-size="13.89" text-anchor="end" fill="#000" >Period 1: 0.36</text>
<text x="947.3" y="1125.9399999999998" font-size="13.89" text-anchor="end" fill="#000" >Period 2: 1.26</text>
<text x="947.3" y="1142.11" font-size="13.89" text-anchor="end" fill="#000" >Period 3: 0.98</text>
<text x="525" y="1241.3" font-size="30.56" text-anchor="middle" fill="#000" >xG Difference over Time</text>
<rect x="360.25" y="1249.5" width="26.5" height="432.79999999999995" fill="#90ee90" fill-opacity="0.5"/>
<rect x="821.0" y="1249.5" width="1.7999999999999545" height="432.79999999999995" fill="#add8e6" fill-opacity="0.5"/>
<rect x="863.0" y="1249.5" width="27.0" height="432.79999999999995" fill="#add8e6" fill-opacity="0.5"/>
<line x1="355.5" y1="1249.5" x2="355.5" y2="1682.3" stroke="#b0b0b0" stroke-width="1.05"/>
<line x1="626.5" y1="1249.5" x2="626.5" y2="1682.3" stroke="#b0b0b0" stroke-width="1.05"/>
<line x1="897.5" y1="1249.5" x2="897.5" y2="1682.3" stroke="#b0b0b0" stroke-width="1.05"/>
<line x1="84.5" y1="1287.5" x2="965.5" y2="1287.5" stroke="#b0b0b0" stroke-width="1.05"/>
<line x1="84.5" y1="1347.5" x2="965.5" y2="1347.5" stroke="#b0b0b0" stroke-width="1.05"/>
<line x1="84.5" y1="1406.5" x2="965.5" y2="1406.5" stroke="#b0b0b0" stroke-width="1.05"/>
<line x1="84.5" y1="1525.5" x2="965.5" y2="1525.5" stroke="#b0b0b0" stroke-width="1.05"/>
<line x1="84.5" y1="1584.5" x2="965.5" y2="1584.5" stroke="#b0b0b0" stroke-width="1.05"/>
<line x1="84.5" y1="1644.5" x2="965.5" y2="1644.5" stroke="#b0b0b0" stroke-width="1.05"/>
<line x1="84.5" y1="1465.5" x2="965.5" y2="1465.5" stroke="#000" stroke-width="1.05"/>
<polyline points="98.25,1452.00 109.25,1450.50 120.00,1450.75 129.00,1426.90 132.50,1426.90" fill="none" stroke="#0000ff" stroke-width="2.08" stroke-linejoin="round" stroke-linecap="butt" />
<polyline points="132.50,1426.90 155.00,1437.50 168.75,1439.25" fill="none" stroke="#008000" stroke-width="2.08" stroke-linejoin="round" stroke-linecap="butt" />
<polyline points="168.75,1439.25 185.50,1437.50 188.00,1435.50 188.75,1421.25 189.00,1386.25 214.25,1384.50 215.00,1371.25 216.25,1368.00 223.00,1362.50" fill="none" stroke="#0000ff" stroke-width="2.08" stroke-linejoin="round" stroke-linecap="butt" />
<polyline points="223.00,1362.50 233.00,1373.75 244.25,1380.75 246.00,1384.50" fill="none" stroke="#008000" stroke-width="2.08" stroke-linejoin="round" stroke-linecap="butt" />
<polyline points="246.00,1384.50 267.50,1384.50 269.00,1372.50 269.50,1351.25 270.00,1317.50 271.50,1309.50 279.50,1301.25" fill="none" stroke="#0000ff" stroke-width="2.08" stroke-linejoin="round" stroke-linecap="butt" />
<polyline points="279.50,1301.25 287.50,1304.50 297.50,1306.75" fill="none" stroke="#008000" stroke-width="2.08" stroke-linejoin="round" stroke-linecap="butt" />
<polyline points="297.50,1306.75 305.00,1297.00 311.50,1289.25 324.50,1289.25 326.50,1266.25 329.50,1263.00 363.25,1263.00 365.00,1261.00 384.50,1261.00" fill="none" stroke="#0000ff" stroke-width="2.08" stroke-linejoin="round" stroke-linecap="butt" />
<polyline points="384.50,1261.00 387.50,1269.75" fill="none" stroke="#008000" stroke-width="2.08" stroke-linejoin="round" stroke-linecap="butt" />
<polyline points="387.50,1269.75 395.75,1269.75" fill="none" stroke="#0000ff" stroke-width="2.08" stroke-linejoin="round" stroke-linecap="butt" />
<polyline points="395.75,1269.75 398.25,1285.75 406.25,1287.75 407.50,1298.00 408.00,1325.00" fill="none" stroke="#008000" stroke-width="2.08" stroke-linejoin="round" stroke-linecap="butt" />
<polyline points="408.00,1325.00 415.75,1325.00 433.00,1312.00 436.75,1312.00" fill="none" stroke="#0000ff" stroke-width="2.08" stroke-linejoin="round" stroke-linecap="butt" />
<polyline points="436.75,1312.00 445.50,1320.50" fill="none" stroke="#008000" stroke-width="2.08" stroke-linejoin="round" stroke-linecap="butt" />
<polyline points="445.50,1320.50 451.25,1320.50" fill="none" stroke="#0000ff" stroke-width="2.08" stroke-linejoin="round" stroke-linecap="butt" />
<polyline points="451.25,1320.50 453.75,1338.75 454.25,1357.00" fill="none" stroke="#008000" stroke-width="2.08" stroke-linejoin="round" stroke-linecap="butt" />
<polyline points="454.25,1357.00 467.50,1357.00 475.75,1347.70 476.40,1336.60 491.25,1336.60" fill="none" stroke="#0000ff" stroke-width="2.08" stroke-linejoin="round" stroke-linecap="butt" />
<polyline points="491.25,1336.60 499.50,1340.00" fill="none" stroke="#008000" stroke-width="2.08" stroke-linejoin="round" stroke-linecap="butt" />
<polyline points="499.50,1340.00 514.50,1340.00" fill="none" stroke="#0000ff" stroke-width="2.08" stroke-linejoin="round" stroke-linecap="butt" />
<polyline points="514.50,1340.00 514.60,1349.50" fill="none" stroke="#008000" stroke-width="2.08" stroke-linejoin="round" stroke-linecap="butt" />
<polyline points="515.50,1349.50 544.25,1349.50 555.00,1336.00" fill="none" stroke="#0000ff" stroke-width="2.08" stroke-linejoin="round" stroke-linecap="butt" />
<polyline points="555.00,1336.00 560.75,1344.50 562.25,1360.25" fill="none" stroke="#008000" stroke-width="2.08" stroke-linejoin="round" stroke-linecap="butt" />
<polyline points="562.25,1360.25 568.75,1351.25 575.50,1342.25 587.50,1342.25" fill="none" stroke="#0000ff" stroke-width="2.08" stroke-linejoin="round" stroke-linecap="butt" />
<polyline points="587.50,1342.25 588.25,1347.50" fill="none" stroke="#008000" stroke-width="2.08" stroke-linejoin="round" stroke-linecap="butt" />
<polyline points="588.25,1347.50 592.00,1337.25 610.75,1330.00 611.75,1324.25 615.00,1323.75 635.00,1317.00 646.75,1317.00 650.50,1312.75 659.50,1312.75" fill="none" stroke="#0000ff" stroke-width="2.08" stroke-linejoin="round" stroke-linecap="butt" />
<polyline points="659.50,1312.75 685.00,1316.25 693.75,1319.00 724.25,1320.75" fill="none" stroke="#008000" stroke-width="2.08" stroke-linejoin="round" stroke-linecap="butt" />
<polyline points="724.25,1320.75 751.00,1301.50" fill="none" stroke="#0000ff" stroke-width="2.08" stroke-linejoin="round" stroke-linecap="butt" />
<polyline points="751.00,1301.50 758.75,1306.00" fill="none" stroke="#008000" stroke-width="2.08" stroke-linejoin="round" stroke-linecap="butt" />
<polyline points="758.75,1306.00 770.75,1306.00" fill="none" stroke="#0000ff" stroke-width="2.08" stroke-linejoin="round" stroke-linecap="butt" />
<polyline points="770.75,1306.00 788.75,1310.50" fill="none" stroke="#008000" stroke-width="2.08" stroke-linejoin="round" stroke-linecap="butt" />
<polyline points="788.75,1310.50 792.00,1310.50" fill="none" stroke="#0000ff" stroke-width="2.08" stroke-linejoin="round" stroke-linecap="butt" />
<polyline points="792.00,1310.50 801.75,1329.50" fill="none" stroke="#008000" stroke-width="2.08" stroke-linejoin="round" stroke-linecap="butt" />
<polyline points="801.75,1329.50 805.00,1329.50" fill="none" stroke="#0000ff" stroke-width="2.08" stroke-linejoin="round" stroke-linecap="butt" />
<polyline points="805.00,1329.50 815.50,1348.75 819.25,1366.25 820.25,1384.50" fill="none" stroke="#008000" stroke-width="2.08" stroke-linejoin="round" stroke-linecap="butt" />
<polyline points="820.25,1384.50 830.00,1369.00" fill="none" stroke="#0000ff" stroke-width="2.08" stroke-linejoin="round" stroke-linecap="butt" />
<polyline points="830.00,1369.00 834.40,1376.80" fill="none" stroke="#008000" stroke-width="2.08" stroke-linejoin="round" stroke-linecap="butt" />
<polyline points="834.40,1376.80 853.75,1374.50" fill="none" stroke="#0000ff" stroke-width="2.08" stroke-linejoin="round" stroke-linecap="butt" />
<polyline points="853.75,1374.50 865.75,1391.75" fill="none" stroke="#008000" stroke-width="2.08" stroke-linejoin="round" stroke-linecap="butt" />
<polyline points="865.75,1391.75 872.50,1391.75 894.25,1385.00 895.50,1368.50" fill="none" stroke="#0000ff" stroke-width="2.08" stroke-linejoin="round" stroke-linecap="butt" />
<rect x="118.15" y="1424.15" width="16.7" height="16.7" rx="1" fill="#0000ff"/>
<rect x="263.15" y="1301.15" width="16.7" height="16.7" rx="1" fill="#0000ff"/>
<rect x="271.15" y="1292.90" width="16.7" height="16.7" rx="1" fill="#0000ff"/>
<rect x="303.95" y="1280.90" width="16.7" height="16.7" rx="1" fill="#0000ff"/>
<rect x="507.15" y="1341.90" width="16.7" height="16.7" rx="1" fill="#008000"/>
<rect x="568.15" y="1333.90" width="16.7" height="16.7" rx="1" fill="#0000ff"/>
<rect x="579.90" y="1339.15" width="16.7" height="16.7" rx="1" fill="#008000"/>
<rect x="819.90" y="1362.90" width="16.7" height="16.7" rx="1" fill="#0000ff"/>
<rect x="887.15" y="1360.15" width="16.7" height="16.7" rx="1" fill="#0000ff"/>
<rect x="84.5" y="1249.5" width="881.0" height="432.79999999999995" fill="none" stroke="#000" stroke-width="1.11"/>
<line x1="84.5" y1="1682.3" x2="84.5" y2="1687.1599999999999" stroke="#000" stroke-width="1.05"/>
<text x="84.5" y="1702.2" font-size="13.89" text-anchor="middle" fill="#000" >0</text>
<line x1="355.5" y1="1682.3" x2="355.5" y2="1687.1599999999999" stroke="#000" stroke-width="1.05"/>
<text x="355.5" y="1702.2" font-size="13.89" text-anchor="middle" fill="#000" >20</text>
<line x1="626.5" y1="1682.3" x2="626.5" y2="1687.1599999999999" stroke="#000" stroke-width="1.05"/>
<text x="626.5" y="1702.2" font-size="13.89" text-anchor="middle" fill="#000" >40</text>
<line x1="897.5" y1="1682.3" x2="897.5" y2="1687.1599999999999" stroke="#000" stroke-width="1.05"/>
<text x="897.5" y="1702.2" font-size="13.89" text-anchor="middle" fill="#000" >60</text>
<line x1="79.64" y1="1287.5" x2="84.5" y2="1287.5" stroke="#000" stroke-width="1.05"/>
<text x="74.8" y="1292.8500000000001" font-size="13.89" text-anchor="end" fill="#000" >1.5</text>
<line x1="79.64" y1="1347.5" x2="84.5" y2="1347.5" stroke="#000" stroke-width="1.05"/>
<text x="74.8" y="1352.3" font-size="13.89" text-anchor="end" fill="#000" >1.0</text>
<line x1="79.64" y1="1406.5" x2="84.5" y2="1406.5" stroke="#000" stroke-width="1.05"/>
<text x="74.8" y="1411.75" font-size="13.89" text-anchor="end" fill="#000" >0.5</text>
<line x1="79.64" y1="1465.5" x2="84.5" y2="1465.5" stroke="#000" stroke-width="1.05"/>
<text x="74.8" y="1471.2" font-size="13.89" text-anchor="end" fill="#000" >0.0</text>
<line x1="79.64" y1="1525.5" x2="84.5" y2="1525.5" stroke="#000" stroke-width="1.05"/>
<text x="74.8" y="1530.65" font-size="13.89" text-anchor="end" fill="#000" >−0.5</text>
<line x1="79.64" y1="1584.5" x2="84.5" y2="1584.5" stroke="#000" stroke-width="1.05"/>
<text x="74.8" y="1590.1000000000001" font-size="13.89" text-anchor="end" fill="#000" >−1.0</text>
<line x1="79.64" y1="1644.5" x2="84.5" y2="1644.5" stroke="#000" stroke-width="1.05"/>
<text x="74.8" y="1649.55" font-size="13.89" text-anchor="end" fill="#000" >−1.5</text>
<text x="525" y="1727.0" font-size="22.22" text-anchor="middle" fill="#000" >Time (minutes)</text>
<text transform="translate(31.0,1466) rotate(-90)" font-size="22.22" text-anchor="middle">xG Difference</text>
<rect x="102.4" y="1258.6" width="96.3" height="45.8" rx="2.8" fill="#fff" fill-opacity="0.8" stroke="#000" stroke-opacity="0.8" stroke-width="1.2"/>
<rect x="107.0" y="1264.6" width="28.9" height="9.7" fill="#0000ff"/>
<rect x="107.0" y="1285.7" width="28.9" height="9.7" fill="#008000"/>
<text x="146.9" y="1274.0" font-size="13.89" text-anchor="start" fill="#000" >↑ ÖHK</text>
<text x="146.9" y="1295.1" font-size="13.89" text-anchor="start" fill="#000" >↓ LHC</text>
<text x="989.6" y="1782" font-size="15.28" text-anchor="end" fill="#000" textLength="463.6" lengthAdjust="spacingAndGlyphs">Presentation by: @HankHagelin | Data from: hockeysiffror.se</text>
</svg>
</body></html>
